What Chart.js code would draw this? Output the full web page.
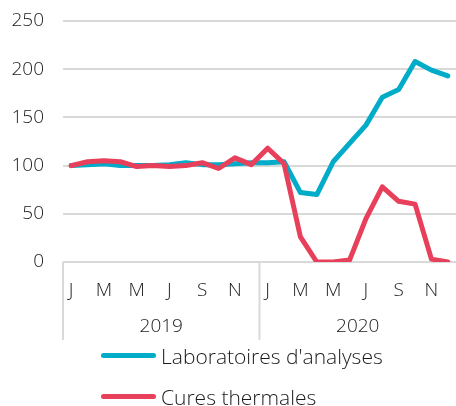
<!DOCTYPE html>
<html>
<head>
<meta charset="utf-8">
<script src="https://cdn.jsdelivr.net/npm/chart.js@4"></script>
<style>
  body { margin: 0; background: #fff; font-family: 'Open Sans', sans-serif; }
  #wrap { position: relative; width: 456px; height: 345px; }
  #legend { position: absolute; left: 101px; top: 335px; }
  .leg-item { display: flex; align-items: center; height: 41px; font-size: 21px; font-weight: 300; color: #1a1a1a; }
  .leg-line { width: 55px; height: 5px; border-radius: 3px; margin-right: 5px; }
</style>
</head>
<body>
<div id="wrap"><canvas id="chart"></canvas></div>
<div id="legend"></div>
<script>
// Data
const months = ['J', 'F', 'M', 'A', 'M', 'J', 'J', 'A', 'S', 'O', 'N', 'D'];
const years = ['2019', '2020'];
const labos = [100, 101, 102, 100, 100, 100, 101, 103, 101, 101, 102, 103,
               103, 104, 72, 70, 104, 123, 142, 171, 179, 208, 199, 193];
const cures = [100, 104, 105, 104, 99, 100, 99, 100, 103, 97, 108, 101,
               118, 102, 26, 0, 0, 2, 45, 78, 63, 60, 3, 0];
const yTicks = [0, 50, 100, 150, 200, 250];

const labels = [];
years.forEach(y => months.forEach(m => labels.push(m)));

const textColor = '#1a1a1a';
const gridColor = '#d9d9d9';
const fontFamily = "'Open Sans', sans-serif";

// Year labels and group separators under the axis
const yearGroups = {
    id: 'yearGroups',
    afterDraw(chart) {
        const ctx = chart.ctx;
        const x = chart.scales.x;
        const top = chart.chartArea.bottom;
        const step = (x.right - x.left) / labels.length;
        ctx.save();
        ctx.strokeStyle = gridColor;
        ctx.lineWidth = 2;
        for (let i = 0; i < years.length; i++) {
            const gx = x.left + i * months.length * step;
            ctx.beginPath();
            ctx.moveTo(gx, top);
            ctx.lineTo(gx, top + 78);
            ctx.stroke();
        }
        ctx.fillStyle = textColor;
        ctx.font = '300 19px ' + fontFamily;
        ctx.textAlign = 'center';
        ctx.textBaseline = 'middle';
        years.forEach((y, i) => {
            const cx = x.left + (i + 0.5) * months.length * step;
            ctx.fillText(y, cx, top + 65);
        });
        ctx.restore();
    }
};

const chart = new Chart(document.getElementById('chart'), {
    type: 'line',
    data: {
        labels: labels,
        datasets: [
            {
                label: "Laboratoires d'analyses",
                data: labos,
                order: 1,
                borderColor: '#00acc8',
                backgroundColor: '#00acc8',
                borderWidth: 5,
                pointRadius: 0,
                tension: 0,
                borderJoinStyle: 'round',
                borderCapStyle: 'round'
            },
            {
                label: 'Cures thermales',
                data: cures,
                order: 0,
                borderColor: '#e8405a',
                backgroundColor: '#e8405a',
                borderWidth: 5,
                pointRadius: 0,
                tension: 0,
                borderJoinStyle: 'round',
                borderCapStyle: 'round'
            }
        ]
    },
    options: {
        responsive: true,
        maintainAspectRatio: false,
        animation: false,
        layout: { padding: { top: 21, bottom: 3, left: 0, right: 0 } },
        plugins: {
            legend: { display: false },
            tooltip: { enabled: false }
        },
        scales: {
            x: {
                offset: true,
                grid: { display: false },
                border: { display: false },
                ticks: {
                    autoSkip: false,
                    maxRotation: 0,
                    padding: 9,
                    color: textColor,
                    font: { family: fontFamily, size: 19, weight: 300 },
                    callback: (v, i) => (i % 2 === 0 ? labels[i] : '')
                },
                afterFit: s => { s.height = 80; s.paddingLeft = 0; s.paddingRight = 0; }
            },
            y: {
                min: 0,
                max: 250,
                afterBuildTicks: s => { s.ticks = yTicks.map(v => ({ value: v })); },
                grid: { color: gridColor, lineWidth: 2, drawTicks: false },
                border: { display: false },
                ticks: {
                    padding: 19,
                    color: textColor,
                    font: { family: fontFamily, size: 19, weight: 300 }
                },
                afterFit: s => { s.width = 63; s.paddingTop = 0; s.paddingBottom = 0; }
            }
        }
    },
    plugins: [yearGroups]
});

// Legend built from the chart datasets, in their listed order
const legend = document.getElementById('legend');
chart.data.datasets.forEach(ds => {
    const item = document.createElement('div');
    item.className = 'leg-item';
    item.innerHTML = `<span class="leg-line" style="background:${ds.borderColor}"></span><span>${ds.label}</span>`;
    legend.appendChild(item);
});
</script>
</body>
</html>
